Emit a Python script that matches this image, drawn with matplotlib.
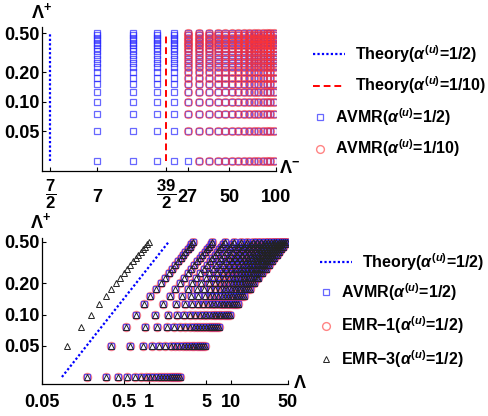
"""Threshold maps for the AVMR / EMR runs: Lambda+ vs Lambda- and vs Lambda = Lambda+ Lambda-."""
import matplotlib

matplotlib.use("Agg")
import matplotlib.pyplot as plt
from matplotlib.lines import Line2D
from matplotlib.ticker import NullLocator
from matplotlib.transforms import blended_transform_factory
import numpy as np

plt.rcParams.update({
    "font.family": "Liberation Sans",
    "font.weight": "bold",
    "font.size": 11.5,
    "mathtext.fontset": "custom",
    "mathtext.rm": "Liberation Sans:bold",
    "mathtext.it": "Liberation Sans:italic:bold",
    "mathtext.bf": "Liberation Sans:bold",
})

# sweep grid
lam_minus = [7, 12, 17, 22, 27, 32, 37, 42, 47, 52, 57, 62, 67, 72, 77, 82, 87, 92, 97]
lam_plus = [0.025, 0.05, 0.075, 0.1, 0.125, 0.15, 0.175, 0.2, 0.225, 0.25,
            0.275, 0.3, 0.325, 0.35, 0.375, 0.4, 0.425, 0.45, 0.475, 0.5]

# theory thresholds on Lambda-
theory_half = 7 / 2
theory_tenth = 39 / 2

# AVMR(alpha=1/10) points that came out above threshold
tenth_minus = [27, 32, 37, 42, 47, 52, 57, 62, 67, 72, 77, 82, 87, 92, 97]
tenth_missing = [(27, 0.025)]

# extra EMR-3 column at Lambda- = 2
emr3_extra_minus = 2
emr3_extra_plus = lam_plus[1:]

top_xticks = [3.5, 7, 19.5, 27, 50, 100]
top_xlabels = ["", "7", "", "27", "50", "100"]
frac_ticks = [3.5, 19.5]
frac_labels = [r"$\dfrac{7}{2}$", r"$\dfrac{39}{2}$"]
bot_xticks = [0.05, 0.5, 1, 5, 10, 50]
bot_xlabels = ["0.05", "0.5", "1", "5", "10", "50"]
yticks = [0.05, 0.1, 0.2, 0.5]
ylabels = ["0.05", "0.10", "0.20", "0.50"]

BLUE = (0.15, 0.15, 1.0, 0.7)
RED = (1.0, 0.2, 0.2, 0.6)
W, H = 489, 416
TICK_FS = 13

fig = plt.figure(figsize=(W / 100, H / 100), dpi=100)
ax1 = fig.add_axes([42 / W, 1 - 171 / H, 234 / W, 144 / H])
ax2 = fig.add_axes([42 / W, 1 - 384 / H, 246 / W, 146 / H])


def style(ax):
    ax.set_xscale("log")
    ax.set_yscale("log")
    for s in ("top", "right"):
        ax.spines[s].set_visible(False)
    for s in ("left", "bottom"):
        ax.spines[s].set_linewidth(0.9)
    ax.set_yticks(yticks)
    ax.set_yticklabels(ylabels)
    ax.xaxis.set_minor_locator(NullLocator())
    ax.yaxis.set_minor_locator(NullLocator())
    ax.tick_params(direction="in", length=3, width=0.8, labelsize=TICK_FS)
    ax.tick_params(axis="y", pad=2)


# --- top: Lambda+ vs Lambda- ---
style(ax1)
ax1.set_xlim(3.1, 100)
ax1.set_ylim(0.0198, 0.576)
ax1.plot([theory_half, theory_half], [lam_plus[0], lam_plus[-1]], color="blue", ls=(0, (1, 1)), lw=1.6)
ax1.plot([theory_tenth, theory_tenth], [lam_plus[0], lam_plus[-1]], color="red", ls=(0, (3.5, 2)), lw=1.4)

gx, gy = np.meshgrid(lam_minus, lam_plus)
ax1.plot(gx.ravel(), gy.ravel(), ls="none", marker="s", ms=3.8, mfc="none", mec=BLUE, mew=0.9)
tx, ty = np.meshgrid(tenth_minus, lam_plus)
keep = [(a, b) not in tenth_missing for a, b in zip(tx.ravel(), ty.ravel())]
ax1.plot(tx.ravel()[keep], ty.ravel()[keep], ls="none", marker="o", ms=5.6, mfc="none", mec=RED, mew=1.0)

ax1.set_xticks(top_xticks)
ax1.set_xticklabels(top_xlabels)
ax1.tick_params(axis="x", pad=19)
for t in ax1.get_xticklabels():
    t.set_va("center")
# fraction tick labels, drawn as text below their ticks
xb = blended_transform_factory(ax1.transData, ax1.transAxes)
for x, s in zip(frac_ticks, frac_labels):
    ax1.text(x, -0.16, s, transform=xb, ha="center", va="center", fontsize=12, clip_on=False)
ax1.set_ylabel(r"$\Lambda^{+}$", rotation=0, ha="center", va="center", fontsize=13)
ax1.yaxis.set_label_coords(-0.004, 1.104)
ax1.set_xlabel(r"$\Lambda^{-}$", ha="center", va="center", fontsize=13)
ax1.xaxis.set_label_coords(1.056, 0.02)

# --- bottom: Lambda+ vs Lambda = Lambda+ Lambda- ---
style(ax2)
ax2.set_xlim(0.05, 50)
ax2.set_ylim(0.0214, 0.546)
th = np.array([lam_plus[0], lam_plus[-1]])
ax2.plot(theory_half * th, th, color="blue", ls=(0, (1, 1)), lw=1.6)

bx = (gx * gy).ravel()
by = gy.ravel()
ax2.plot(bx, by, ls="none", marker="o", ms=5.6, mfc="none", mec=RED, mew=1.2)
ax2.plot(bx, by, ls="none", marker="s", ms=3.8, mfc="none", mec=BLUE, mew=0.9)
ex = np.concatenate([bx, emr3_extra_minus * np.array(emr3_extra_plus)])
ey = np.concatenate([by, emr3_extra_plus])
ax2.plot(ex, ey, ls="none", marker="^", ms=4.6, mfc="none", mec="#222222", mew=0.7)

ax2.set_xticks(bot_xticks)
ax2.set_xticklabels(bot_xlabels)
ax2.tick_params(axis="x", pad=13)
for t in ax2.get_xticklabels():
    t.set_va("center")
ax2.set_ylabel(r"$\Lambda^{+}$", rotation=0, ha="center", va="center", fontsize=13)
ax2.yaxis.set_label_coords(-0.004, 1.11)
ax2.set_xlabel(r"$\Lambda$", ha="center", va="center", fontsize=13)
ax2.xaxis.set_label_coords(1.049, 0.0)

# --- legends ---
leg_kw = dict(frameon=False, loc="upper left", borderpad=0, borderaxespad=0, labelspacing=0.62, fontsize=11.5)

fig.legend([Line2D([], [], color="blue", ls=(0, (1, 1)), lw=1.6),
            Line2D([], [], color="red", ls=(0, (3.5, 2)), lw=1.4)],
           [r"Theory($\alpha^{(u)}$=1/2)", r"Theory($\alpha^{(u)}$=1/10)"],
           bbox_to_anchor=(313 / W, 1 - 43 / H), handlelength=2.0, handletextpad=0.6, **leg_kw)
fig.legend([Line2D([], [], ls="none", marker="s", ms=3.8, mfc="none", mec=BLUE, mew=0.9),
            Line2D([], [], ls="none", marker="o", ms=5.6, mfc="none", mec=RED, mew=1.0)],
           [r"AVMR($\alpha^{(u)}$=1/2)", r"AVMR($\alpha^{(u)}$=1/10)"],
           bbox_to_anchor=(313 / W, 1 - 106 / H), handlelength=0.9, handletextpad=0.5, **leg_kw)

fig.legend([Line2D([], [], color="blue", ls=(0, (1, 1)), lw=1.6)],
           [r"Theory($\alpha^{(u)}$=1/2)"],
           bbox_to_anchor=(320 / W, 1 - 251 / H), handlelength=2.0, handletextpad=0.6, **leg_kw)
fig.legend([Line2D([], [], ls="none", marker="s", ms=3.8, mfc="none", mec=BLUE, mew=0.9),
            Line2D([], [], ls="none", marker="o", ms=5.6, mfc="none", mec=RED, mew=1.0),
            Line2D([], [], ls="none", marker="^", ms=4.6, mfc="none", mec="#222222", mew=0.7)],
           [r"AVMR($\alpha^{(u)}$=1/2)", "EMR\u22121($\\alpha^{(u)}$=1/2)", "EMR\u22123($\\alpha^{(u)}$=1/2)"],
           bbox_to_anchor=(319 / W, 1 - 281 / H), handlelength=0.9, handletextpad=0.5,
           **{**leg_kw, "labelspacing": 0.75})

fig.savefig("out.png", dpi=100)
